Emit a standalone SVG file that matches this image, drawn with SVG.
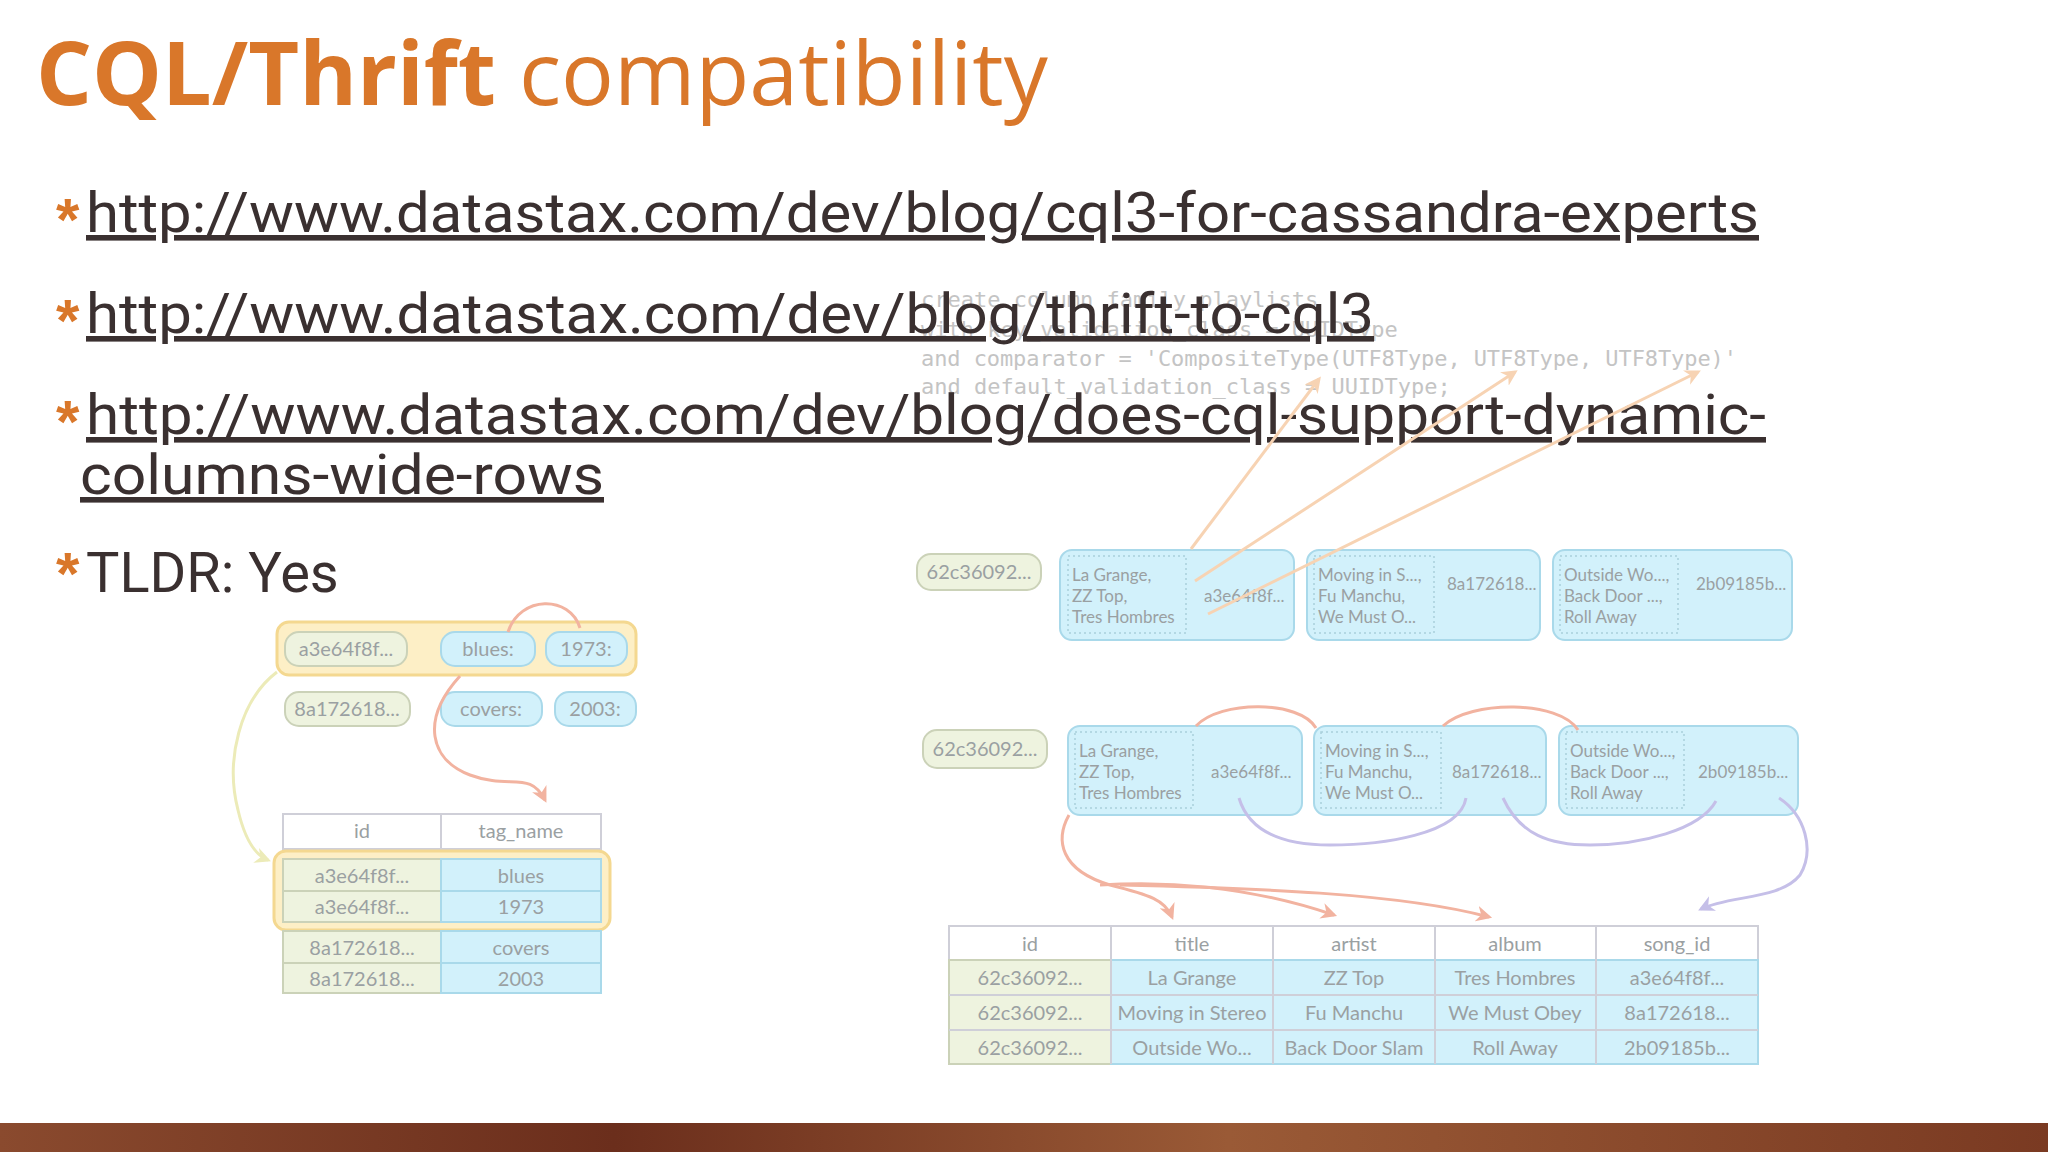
<svg xmlns="http://www.w3.org/2000/svg" width="2048" height="1152" viewBox="0 0 2048 1152">
<defs>
<style>
.lnk{font-family:Roboto,"Liberation Sans",sans-serif;font-size:56px;fill:#3a3030;text-decoration:underline}
.ast{font-family:"Liberation Sans",sans-serif;font-size:60px;font-weight:bold;fill:#d9772a}
.code{font-family:"DejaVu Sans Mono","Liberation Mono",monospace;font-size:22px;fill:#c4c4c4}
.lb{font-family:Lato,"Open Sans",sans-serif;font-size:20px;fill:#9aa0a2;text-anchor:middle}
.lbs{font-family:Lato,"Open Sans",sans-serif;font-size:17px;fill:#9aa0a2}
.g{fill:#eef3df;stroke:#cbd2b8;stroke-width:2}
.b{fill:#d2f1fb;stroke:#a9d9ea;stroke-width:2}
.y{fill:#fdefc6;stroke:#f4d890;stroke-width:3}
.w{fill:#fff;stroke:#cfcfd8;stroke-width:2}
.dot{fill:none;stroke:#a9cfdc;stroke-width:1.5;stroke-dasharray:2 3}
.red{fill:none;stroke:#f2b3a0;stroke-width:3}
.pur{fill:none;stroke:#c5bfe8;stroke-width:3}
.ora{fill:none;stroke:#f7d3b3;stroke-width:3}
.yel{fill:none;stroke:#ecebb8;stroke-width:3}
</style>
<marker id="mr" markerWidth="16" markerHeight="16" refX="8" refY="5" orient="auto" viewBox="0 0 10 10" markerUnits="userSpaceOnUse"><path d="M0,0 L10,5 L0,10 L3,5 Z" fill="#f2b3a0"/></marker>
<marker id="mp" markerWidth="16" markerHeight="16" refX="8" refY="5" orient="auto" viewBox="0 0 10 10" markerUnits="userSpaceOnUse"><path d="M0,0 L10,5 L0,10 L3,5 Z" fill="#c5bfe8"/></marker>
<marker id="mo" markerWidth="16" markerHeight="16" refX="8" refY="5" orient="auto" viewBox="0 0 10 10" markerUnits="userSpaceOnUse"><path d="M0,0 L10,5 L0,10 L3,5 Z" fill="#f7d3b3"/></marker>
<marker id="my" markerWidth="16" markerHeight="16" refX="8" refY="5" orient="auto" viewBox="0 0 10 10" markerUnits="userSpaceOnUse"><path d="M0,0 L10,5 L0,10 L3,5 Z" fill="#ecebb8"/></marker>
<linearGradient id="band" x1="0" x2="1"><stop offset="0" stop-color="#8a4a2e"/><stop offset="0.3" stop-color="#6b2e1c"/><stop offset="0.6" stop-color="#9a5a36"/><stop offset="1" stop-color="#7a3a22"/></linearGradient>
</defs>
<rect width="2048" height="1152" fill="#fff"/>
<rect y="1123" width="2048" height="29" fill="url(#band)"/>

<g id="code">
<text class="code" x="921" y="307">create column family playlists</text>
<text class="code" x="921" y="337">with key_validation_class = UUIDType</text>
<text class="code" x="921" y="366" textLength="816">and comparator = 'CompositeType(UTF8Type, UTF8Type, UTF8Type)'</text>
<text class="code" x="921" y="394">and default_validation_class = UUIDType;</text>
</g>

<g id="title">
<text x="36" y="105" font-family="'Open Sans','Noto Sans',sans-serif" font-size="88" fill="#d9772a"><tspan font-weight="bold">CQL/Thrift</tspan><tspan> compatibility</tspan></text>
</g>

<g id="bullets">
<text class="ast" x="56" y="240">*</text>
<text class="lnk" x="86" y="232" textLength="1673" lengthAdjust="spacingAndGlyphs">http://www.datastax.com/dev/blog/cql3-for-cassandra-experts</text>
<text class="ast" x="56" y="341">*</text>
<text class="lnk" x="86" y="333" textLength="1288" lengthAdjust="spacingAndGlyphs">http://www.datastax.com/dev/blog/thrift-to-cql3</text>
<text class="ast" x="56" y="442">*</text>
<text class="lnk" x="86" y="434" textLength="1680" lengthAdjust="spacingAndGlyphs">http://www.datastax.com/dev/blog/does-cql-support-dynamic-</text>
<text class="lnk" x="80" y="494" textLength="524" lengthAdjust="spacingAndGlyphs">columns-wide-rows</text>
<text class="ast" x="56" y="594">*</text>
<text x="86" y="592" font-family="Roboto,'Liberation Sans',sans-serif" font-size="56" fill="#3a3030">TLDR: Yes</text>
</g>

<g id="left-diagram">
<rect class="y" x="277" y="622" width="359" height="53" rx="12"/>
<rect class="g" x="285" y="632" width="122" height="34" rx="14"/><text class="lb" x="346" y="656">a3e64f8f...</text>
<rect class="b" x="441" y="632" width="94" height="34" rx="14"/><text class="lb" x="488" y="656">blues:</text>
<rect class="b" x="546" y="632" width="81" height="34" rx="14"/><text class="lb" x="586" y="656">1973:</text>
<rect class="g" x="285" y="692" width="125" height="34" rx="14"/><text class="lb" x="347" y="716">8a172618...</text>
<rect class="b" x="441" y="692" width="101" height="34" rx="14"/><text class="lb" x="491" y="716">covers:</text>
<rect class="b" x="555" y="692" width="81" height="34" rx="14"/><text class="lb" x="595" y="716">2003:</text>

<rect class="w" x="283" y="814" width="318" height="35"/>
<line x1="441" y1="814" x2="441" y2="849" stroke="#cfcfd8" stroke-width="2"/>
<text class="lb" x="362" y="838">id</text><text class="lb" x="521" y="838">tag_name</text>
<rect class="y" x="274" y="851" width="336" height="79" rx="12"/>
<rect class="g" x="283" y="859" width="158" height="32"/><rect class="b" x="441" y="859" width="160" height="32"/>
<rect class="g" x="283" y="891" width="158" height="31"/><rect class="b" x="441" y="891" width="160" height="31"/>
<rect class="g" x="283" y="931" width="158" height="32"/><rect class="b" x="441" y="931" width="160" height="32"/>
<rect class="g" x="283" y="963" width="158" height="30"/><rect class="b" x="441" y="963" width="160" height="30"/>
<text class="lb" x="362" y="883">a3e64f8f...</text><text class="lb" x="521" y="883">blues</text>
<text class="lb" x="362" y="914">a3e64f8f...</text><text class="lb" x="521" y="914">1973</text>
<text class="lb" x="362" y="955">8a172618...</text><text class="lb" x="521" y="955">covers</text>
<text class="lb" x="362" y="986">8a172618...</text><text class="lb" x="521" y="986">2003</text>
</g>

<g id="right-diagram">
<rect class="g" x="917" y="554" width="124" height="36" rx="14"/><text class="lb" x="979" y="579">62c36092...</text>
<rect class="b" x="1060" y="550" width="234" height="90" rx="12"/>
<rect class="b" x="1307" y="550" width="233" height="90" rx="12"/>
<rect class="b" x="1553" y="550" width="239" height="90" rx="12"/>
<rect class="dot" x="1068" y="556" width="118" height="77"/>
<rect class="dot" x="1314" y="556" width="120" height="77"/>
<rect class="dot" x="1560" y="556" width="118" height="77"/>
<text class="lbs" x="1072" y="581">La Grange,</text><text class="lbs" x="1072" y="602">ZZ Top,</text><text class="lbs" x="1072" y="623">Tres Hombres</text>
<text class="lbs" x="1204" y="602">a3e64f8f...</text>
<text class="lbs" x="1318" y="581">Moving in S...,</text><text class="lbs" x="1318" y="602">Fu Manchu,</text><text class="lbs" x="1318" y="623">We Must O...</text>
<text class="lbs" x="1447" y="590">8a172618...</text>
<text class="lbs" x="1564" y="581">Outside Wo...,</text><text class="lbs" x="1564" y="602">Back Door ...,</text><text class="lbs" x="1564" y="623">Roll Away</text>
<text class="lbs" x="1696" y="590">2b09185b...</text>

<rect class="g" x="923" y="730" width="124" height="38" rx="14"/><text class="lb" x="985" y="756">62c36092...</text>
<rect class="b" x="1068" y="726" width="234" height="89" rx="12"/>
<rect class="b" x="1314" y="726" width="232" height="89" rx="12"/>
<rect class="b" x="1559" y="726" width="239" height="89" rx="12"/>
<rect class="dot" x="1075" y="732" width="118" height="76"/>
<rect class="dot" x="1321" y="732" width="120" height="76"/>
<rect class="dot" x="1566" y="732" width="118" height="76"/>
<text class="lbs" x="1079" y="757">La Grange,</text><text class="lbs" x="1079" y="778">ZZ Top,</text><text class="lbs" x="1079" y="799">Tres Hombres</text>
<text class="lbs" x="1211" y="778">a3e64f8f...</text>
<text class="lbs" x="1325" y="757">Moving in S...,</text><text class="lbs" x="1325" y="778">Fu Manchu,</text><text class="lbs" x="1325" y="799">We Must O...</text>
<text class="lbs" x="1452" y="778">8a172618...</text>
<text class="lbs" x="1570" y="757">Outside Wo...,</text><text class="lbs" x="1570" y="778">Back Door ...,</text><text class="lbs" x="1570" y="799">Roll Away</text>
<text class="lbs" x="1698" y="778">2b09185b...</text>

<rect class="w" x="949" y="926" width="809" height="34"/>
<rect class="g" x="949" y="960" width="162" height="104"/>
<rect class="b" x="1111" y="960" width="647" height="104"/>
<g stroke="#cfcfd8" stroke-width="2">
<line x1="949" y1="995" x2="1758" y2="995"/><line x1="949" y1="1030" x2="1758" y2="1030"/>
<line x1="1111" y1="926" x2="1111" y2="1064"/><line x1="1273" y1="926" x2="1273" y2="1064"/>
<line x1="1435" y1="926" x2="1435" y2="1064"/><line x1="1596" y1="926" x2="1596" y2="1064"/>
</g>
<text class="lb" x="1030" y="951">id</text><text class="lb" x="1192" y="951">title</text><text class="lb" x="1354" y="951">artist</text><text class="lb" x="1515" y="951">album</text><text class="lb" x="1677" y="951">song_id</text>
<text class="lb" x="1030" y="985">62c36092...</text><text class="lb" x="1192" y="985">La Grange</text><text class="lb" x="1354" y="985">ZZ Top</text><text class="lb" x="1515" y="985">Tres Hombres</text><text class="lb" x="1677" y="985">a3e64f8f...</text>
<text class="lb" x="1030" y="1020">62c36092...</text><text class="lb" x="1192" y="1020">Moving in Stereo</text><text class="lb" x="1354" y="1020">Fu Manchu</text><text class="lb" x="1515" y="1020">We Must Obey</text><text class="lb" x="1677" y="1020">8a172618...</text>
<text class="lb" x="1030" y="1055">62c36092...</text><text class="lb" x="1192" y="1055">Outside Wo...</text><text class="lb" x="1354" y="1055">Back Door Slam</text><text class="lb" x="1515" y="1055">Roll Away</text><text class="lb" x="1677" y="1055">2b09185b...</text>
</g>

<g id="connectors">
<path class="yel" d="M277,672 C240,700 225,760 238,810 C245,840 255,855 268,860" marker-end="url(#my)"/>
<path class="red" d="M508,632 C520,595 570,595 580,628"/>
<path class="red" d="M460,676 C420,720 430,760 470,775 C510,790 530,770 545,800" marker-end="url(#mr)"/>
<path class="ora" d="M1191,549 L1319,379" marker-end="url(#mo)"/>
<path class="ora" d="M1195,581 L1515,372" marker-end="url(#mo)"/>
<path class="ora" d="M1208,614 L1698,372" marker-end="url(#mo)"/>
<path class="red" d="M1196,726 C1220,700 1300,700 1316,728"/>
<path class="red" d="M1443,726 C1470,700 1560,700 1578,730"/>
<path class="red" d="M1069,815 C1055,840 1060,870 1110,885 C1150,895 1165,900 1172,917" marker-end="url(#mr)"/>
<path class="red" d="M1100,885 C1180,880 1260,890 1334,915" marker-end="url(#mr)"/>
<path class="red" d="M1120,885 C1250,888 1400,893 1489,917" marker-end="url(#mr)"/>
<path class="pur" d="M1239,798 C1250,835 1290,845 1330,845 C1380,845 1460,835 1466,798"/>
<path class="pur" d="M1503,798 C1520,835 1550,845 1590,845 C1640,845 1700,830 1716,801"/>
<path class="pur" d="M1779,798 C1805,815 1815,850 1800,875 C1780,900 1730,895 1701,909" marker-end="url(#mp)"/>
</g>
</svg>
